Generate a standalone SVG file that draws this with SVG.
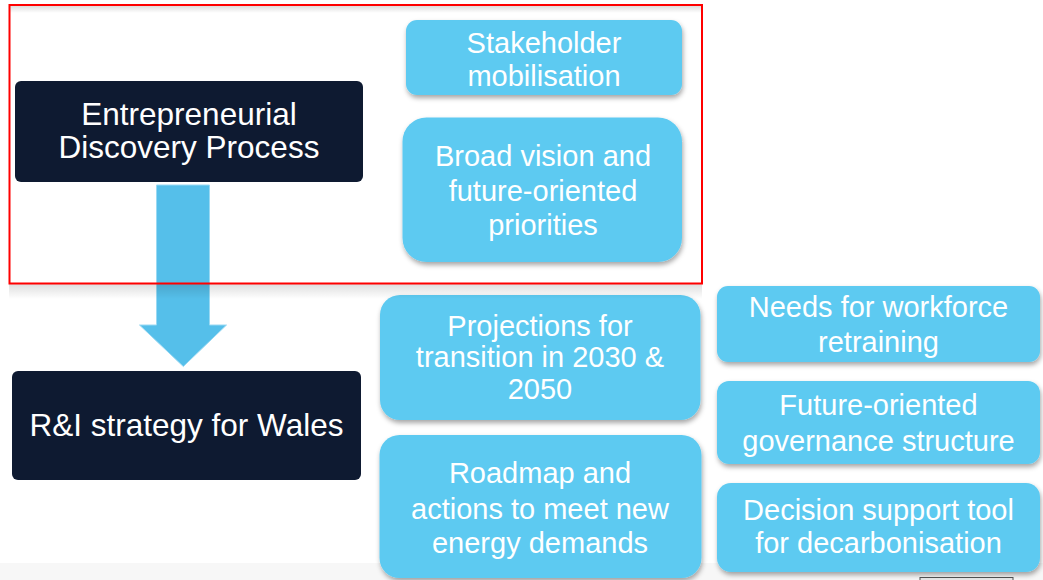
<svg xmlns="http://www.w3.org/2000/svg" width="1043" height="580" viewBox="0 0 1043 580">
<defs>
<filter id="sh" x="-10%" y="-10%" width="125%" height="140%">
<feDropShadow dx="1" dy="3" stdDeviation="2.5" flood-color="#000" flood-opacity="0.35"/>
</filter>
<linearGradient id="fadeDown" x1="0" y1="0" x2="0" y2="1">
<stop offset="0" stop-color="#000" stop-opacity="0.13"/>
<stop offset="1" stop-color="#000" stop-opacity="0"/>
</linearGradient>
<style>
.dark{fill:#0e1a31}
.blue{fill:#5dcaf1;filter:url(#sh)}
.t{font-family:"Liberation Sans",Arial,sans-serif;fill:#fff;text-anchor:middle}
.td{font-size:31.5px}
.tb{font-size:29px}
</style>
</defs>
<rect width="1043" height="580" fill="#fff"/>
<rect x="0" y="563" width="1043" height="17" fill="#f7f7f7"/>
<rect x="920" y="577.5" width="93" height="4" fill="#e8e8e8" stroke="#555" stroke-width="1"/>

<g id="connectors">
<polygon id="arrow" points="156.5,185 209.5,185 209.5,325 226.5,325 183.3,366.5 139.5,325 156.5,325" fill="#55bfea" stroke="#9ad9f3" stroke-width="1"/>
</g>

<g id="edp">
<rect class="dark" x="15" y="81" width="348" height="101" rx="6"/>
<text class="t td" x="189" y="125">Entrepreneurial</text>
<text class="t td" x="189" y="158">Discovery Process</text>
</g>

<g id="ri">
<rect class="dark" x="12" y="371" width="349" height="109" rx="6"/>
<text class="t td" x="186.5" y="436">R&amp;I strategy for Wales</text>
</g>

<g id="stakeholder">
<rect class="blue" x="406" y="20" width="276" height="75" rx="11"/>
<text class="t tb" x="544" y="52.5">Stakeholder</text>
<text class="t tb" x="544" y="86">mobilisation</text>
</g>

<g id="vision">
<rect class="blue" x="402.5" y="117.5" width="279.5" height="144.5" rx="24"/>
<text class="t tb" x="543" y="165.5">Broad vision and</text>
<text class="t tb" x="543" y="200.5">future-oriented</text>
<text class="t tb" x="543" y="235">priorities</text>
</g>

<g id="projections">
<rect class="blue" x="380" y="295" width="320.5" height="125" rx="20"/>
<text class="t tb" x="540" y="335.5">Projections for</text>
<text class="t tb" x="540" y="367">transition in 2030 &amp;</text>
<text class="t tb" x="540" y="398.5">2050</text>
</g>

<g id="roadmap">
<rect class="blue" x="379.5" y="435" width="322" height="143" rx="20"/>
<text class="t tb" x="540" y="483">Roadmap and</text>
<text class="t tb" x="540" y="519">actions to meet new</text>
<text class="t tb" x="540" y="553">energy demands</text>
</g>

<g id="workforce">
<rect class="blue" x="717" y="286" width="323" height="76" rx="11"/>
<text class="t tb" x="878.5" y="316.5">Needs for workforce</text>
<text class="t tb" x="878.5" y="351.5">retraining</text>
</g>

<g id="governance">
<rect class="blue" x="717" y="381" width="323" height="83" rx="12"/>
<text class="t tb" x="878.5" y="415">Future-oriented</text>
<text class="t tb" x="878.5" y="451">governance structure</text>
</g>

<g id="decision">
<rect class="blue" x="717" y="483" width="323" height="89" rx="14"/>
<text class="t tb" x="878.5" y="520">Decision support tool</text>
<text class="t tb" x="878.5" y="552.5">for decarbonisation</text>
</g>

<g id="highlight">
<rect x="10" y="6" width="691" height="7" fill="url(#fadeDown)"/>
<rect x="9" y="284" width="693" height="15" fill="url(#fadeDown)"/>
<rect x="9.5" y="5" width="692.5" height="278.5" fill="none" stroke="#ff0000" stroke-width="2"/>
</g>
</svg>
